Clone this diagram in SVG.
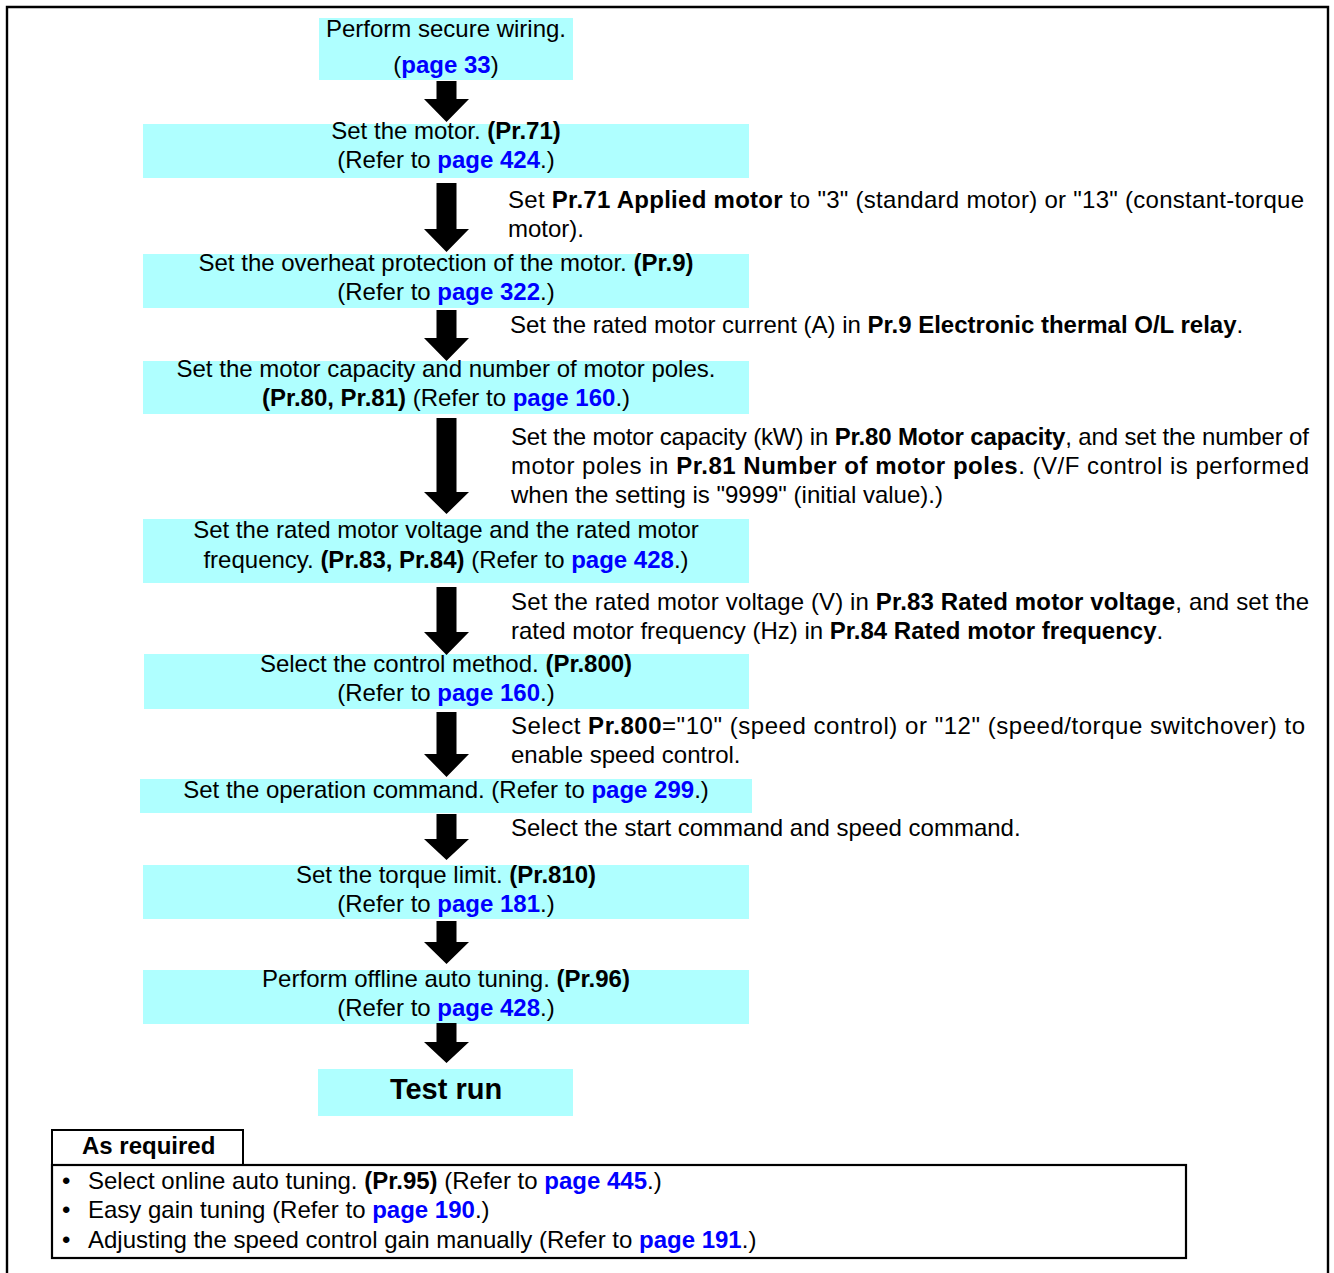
<svg xmlns="http://www.w3.org/2000/svg" width="1334" height="1273" viewBox="0 0 1334 1273">
<style>
text{font-family:"Liberation Sans",Arial,Helvetica,sans-serif;font-size:24px;fill:#000}
.c{text-anchor:middle}
.b{font-weight:bold}
.l{font-weight:bold;fill:#0000FF}
.box{fill:#AFFFFF}
.arr{fill:#000}
.frame{fill:none;stroke:#000;stroke-width:2.4}
</style>
<rect width="1334" height="1273" fill="#fff"/>
<path class="frame" d="M7,1274 V7 H1328 V1274"/>

<g id="n1"><rect class="box" x="319" y="18" width="254" height="62"/>
<text class="c" x="446" y="37">Perform secure wiring.</text>
<text class="c" x="446" y="73">(<tspan class="l">page 33</tspan>)</text></g>

<g id="n2"><rect class="box" x="143" y="124" width="606" height="54"/>
<text class="c" x="446" y="139">Set the motor. <tspan class="b">(Pr.71)</tspan></text>
<text class="c" x="446" y="168">(Refer to <tspan class="l">page 424</tspan>.)</text></g>

<g id="n3"><rect class="box" x="143" y="254" width="606" height="54"/>
<text class="c" x="446" y="271">Set the overheat protection of the motor. <tspan class="b">(Pr.9)</tspan></text>
<text class="c" x="446" y="300">(Refer to <tspan class="l">page 322</tspan>.)</text></g>

<g id="n4"><rect class="box" x="143" y="361" width="606" height="53"/>
<text class="c" x="446" y="377">Set the motor capacity and number of motor poles.</text>
<text class="c" x="446" y="406"><tspan class="b">(Pr.80, Pr.81)</tspan> (Refer to <tspan class="l">page 160</tspan>.)</text></g>

<g id="n5"><rect class="box" x="143" y="519" width="606" height="64"/>
<text class="c" x="446" y="538">Set the rated motor voltage and the rated motor</text>
<text class="c" x="446" y="568">frequency. <tspan class="b">(Pr.83, Pr.84)</tspan> (Refer to <tspan class="l">page 428</tspan>.)</text></g>

<g id="n6"><rect class="box" x="144" y="654" width="605" height="55"/>
<text class="c" x="446" y="672">Select the control method. <tspan class="b">(Pr.800)</tspan></text>
<text class="c" x="446" y="701">(Refer to <tspan class="l">page 160</tspan>.)</text></g>

<g id="n7"><rect class="box" x="140" y="779" width="612" height="34"/>
<text class="c" x="446" y="798">Set the operation command. (Refer to <tspan class="l">page 299</tspan>.)</text></g>

<g id="n8"><rect class="box" x="143" y="865" width="606" height="54"/>
<text class="c" x="446" y="883">Set the torque limit. <tspan class="b">(Pr.810)</tspan></text>
<text class="c" x="446" y="912">(Refer to <tspan class="l">page 181</tspan>.)</text></g>

<g id="n9"><rect class="box" x="143" y="970" width="606" height="54"/>
<text class="c" x="446" y="987">Perform offline auto tuning. <tspan class="b">(Pr.96)</tspan></text>
<text class="c" x="446" y="1016">(Refer to <tspan class="l">page 428</tspan>.)</text></g>

<g id="n10"><rect class="box" x="318" y="1069" width="255" height="47"/>
<text class="c b" x="446" y="1099" style="font-size:29px">Test run</text></g>

<g id="connectors">
<path class="arr" d="M436.5,81 H456.5 V99 H469 L446.5,122 L424,99 H436.5 Z"/>
<path class="arr" d="M436.5,183 H456.5 V229 H469 L446.5,252 L424,229 H436.5 Z"/>
<path class="arr" d="M436.5,310 H456.5 V338 H469 L446.5,361 L424,338 H436.5 Z"/>
<path class="arr" d="M436.5,418 H456.5 V492 H469 L446.5,514 L424,492 H436.5 Z"/>
<path class="arr" d="M436.5,587 H456.5 V632 H469 L446.5,655 L424,632 H436.5 Z"/>
<path class="arr" d="M436.5,712 H456.5 V754 H469 L446.5,777 L424,754 H436.5 Z"/>
<path class="arr" d="M436.5,814 H456.5 V839 H469 L446.5,860 L424,839 H436.5 Z"/>
<path class="arr" d="M436.5,921 H456.5 V942 H469 L446.5,964 L424,942 H436.5 Z"/>
<path class="arr" d="M436.5,1023 H456.5 V1042 H469 L446.5,1063 L424,1042 H436.5 Z"/>
</g>

<g id="notes">
<text x="508" y="208" textLength="796" lengthAdjust="spacing">Set <tspan class="b">Pr.71 Applied motor</tspan>  to "3" (standard motor) or "13" (constant-torque</text>
<text x="508" y="237">motor).</text>
<text x="510" y="333">Set the rated motor current (A) in <tspan class="b">Pr.9 Electronic thermal O/L relay</tspan>.</text>
<text x="511" y="445" textLength="798" lengthAdjust="spacing">Set the motor capacity (kW) in <tspan class="b">Pr.80 Motor capacity</tspan>, and set the number of</text>
<text x="511" y="474" textLength="798" lengthAdjust="spacing">motor poles in <tspan class="b">Pr.81 Number of motor poles</tspan>. (V/F control is performed</text>
<text x="511" y="503">when the setting is "9999" (initial value).)</text>
<text x="511" y="610" textLength="798" lengthAdjust="spacing">Set the rated motor voltage (V) in <tspan class="b">Pr.83 Rated motor voltage</tspan>, and set the</text>
<text x="511" y="639">rated motor frequency (Hz) in <tspan class="b">Pr.84 Rated motor frequency</tspan>.</text>
<text x="511" y="734" textLength="794" lengthAdjust="spacing">Select <tspan class="b">Pr.800</tspan>="10" (speed control) or "12" (speed/torque switchover) to</text>
<text x="511" y="763">enable speed control.</text>
<text x="511" y="836">Select the start command and speed command.</text>
</g>

<g id="as-required">
<path fill="none" stroke="#000" stroke-width="2" d="M52,1165 V1130 H243 V1165"/>
<rect x="52" y="1165" width="1134" height="93" fill="none" stroke="#000" stroke-width="2.2"/>
<text class="b" x="82" y="1154">As required</text>
<text x="62" y="1189">•</text><text x="88" y="1189">Select online auto tuning. <tspan class="b">(Pr.95)</tspan> (Refer to <tspan class="l">page 445</tspan>.)</text>
<text x="62" y="1218">•</text><text x="88" y="1218">Easy gain tuning (Refer to <tspan class="l">page 190</tspan>.)</text>
<text x="62" y="1248">•</text><text x="88" y="1248">Adjusting the speed control gain manually (Refer to <tspan class="l">page 191</tspan>.)</text>
</g>
</svg>
